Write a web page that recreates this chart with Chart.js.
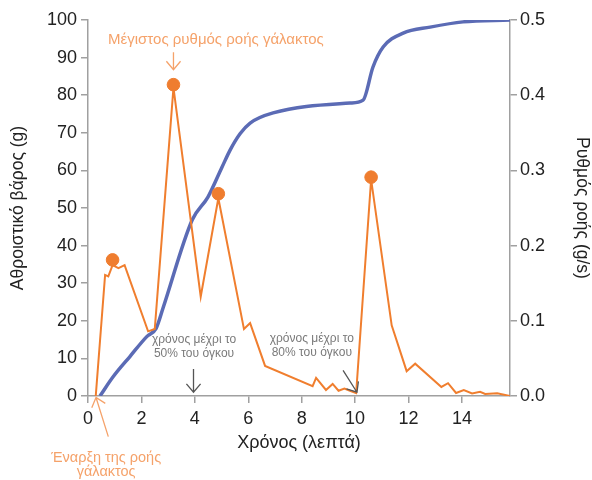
<!DOCTYPE html>
<html>
<head>
<meta charset="utf-8">
<script src="https://cdn.jsdelivr.net/npm/chart.js@4/dist/chart.umd.min.js"></script>
<style>
html,body{margin:0;padding:0;background:#fff;}
canvas{display:block;}
</style>
</head>
<body>
<canvas id="c" width="592" height="480"></canvas>
<script>
// ---- data ----
const xTicks = [0, 2, 4, 6, 8, 10, 12, 14];
const massTicks = [0, 10, 20, 30, 40, 50, 60, 70, 80, 90, 100];
const rateTicks = [0, 0.1, 0.2, 0.3, 0.4, 0.5];

// cumulative weight (g) vs time (min)
const mass_t = [0.45, 0.94, 1.57, 2.2, 2.55, 2.81, 3.9, 4.49, 5.02, 5.32, 5.7, 6.07, 6.93, 9.81, 10.3, 10.67, 11.05, 11.8, 12.81, 14.04, 15.8];
const mass_g = [0, 5.1, 10.5, 15.8, 18.0, 23.4, 46.8, 52.9, 60.9, 65.4, 69.8, 72.6, 75.3, 77.9, 78.7, 87.5, 92.8, 96.5, 98.1, 99.5, 100];

// flow rate (g/s) vs time (min)
const flow_t = [0.29, 0.64, 0.76, 0.92, 1.14, 1.37, 2.25, 2.5, 3.2, 4.22, 4.88, 5.84, 6.07, 6.63, 8.41, 8.54, 8.91, 9.16, 9.38, 9.6, 9.81, 10.04, 10.6, 11.37, 11.93, 12.25, 13.23, 13.48, 13.78, 14.07, 14.38, 14.68, 14.87, 15.32, 15.82];
const flow_r = [0, 0.161, 0.159, 0.174, 0.170, 0.174, 0.086, 0.089, 0.410, 0.132, 0.263, 0.089, 0.097, 0.040, 0.013, 0.024, 0.008, 0.016, 0.007, 0.010, 0.007, 0.004, 0.288, 0.094, 0.033, 0.043, 0.012, 0.017, 0.004, 0.008, 0.0035, 0.0057, 0.0027, 0.0035, 0];

// highlighted peaks
const peak_t = [0.92, 3.2, 4.88, 10.6];
const peak_r = [0.181, 0.414, 0.269, 0.291];

// annotations (text, anchored in data units of x / right axis)
const notes = [
  {lines: ["Μέγιστος ρυθμός ροής γάλακτος"], x: 4.79, r: 0.474, color: "#f5a26a", size: 15, lh: 1.1, arrow: [3.2, 0.457, 3.2, 0.434]},
  {lines: ["χρόνος μέχρι το", "50% του όγκου"], x: 3.97, r: 0.0655, color: "#7a7a7a", size: 12, lh: 1.1, arrow: [3.95, 0.036, 3.95, 0.005], arrowColor: "#555"},
  {lines: ["χρόνος μέχρι το", "80% του όγκου"], x: 8.38, r: 0.0665, color: "#7a7a7a", size: 12, lh: 1.15, arrow: [9.55, 0.034, 10.07, 0.005], arrowColor: "#555"},
  {lines: ["Έναρξη της ροής", "γάλακτος"], x: 0.68, r: -0.092, color: "#f5a26a", size: 14.5, lh: 0.97, arrow: [0.76, -0.054, 0.30, -0.002]}
];

const FONT = "'Liberation Sans', Arial, sans-serif";

const notePlugin = {
  id: 'notes',
  afterDraw(chart) {
    const ctx = chart.ctx, xs = chart.scales.x, ys = chart.scales.y1;
    ctx.save();
    notes.forEach(n => {
      const px = xs.getPixelForValue(n.x), py = ys.getPixelForValue(n.r);
      ctx.fillStyle = n.color;
      ctx.font = n.size + "px " + FONT;
      ctx.textAlign = 'center';
      ctx.textBaseline = 'middle';
      const lh = n.size * n.lh;
      n.lines.forEach((l, i) => ctx.fillText(l, px, py + (i - (n.lines.length - 1) / 2) * lh));
      if (n.arrow) {
        const x1 = xs.getPixelForValue(n.arrow[0]), y1 = ys.getPixelForValue(n.arrow[1]);
        const x2 = xs.getPixelForValue(n.arrow[2]), y2 = ys.getPixelForValue(n.arrow[3]);
        ctx.strokeStyle = n.arrowColor || n.color;
        ctx.lineWidth = 1.3;
        ctx.beginPath();
        ctx.moveTo(x1, y1); ctx.lineTo(x2, y2);
        const a = Math.atan2(y2 - y1, x2 - x1), h = 11, s = 0.7;
        ctx.moveTo(x2 - h * Math.cos(a - s), y2 - h * Math.sin(a - s));
        ctx.lineTo(x2, y2);
        ctx.lineTo(x2 - h * Math.cos(a + s), y2 - h * Math.sin(a + s));
        ctx.stroke();
      }
    });
    ctx.restore();
  }
};

const axisColor = '#a0a0a0';
new Chart(document.getElementById('c'), {
  type: 'scatter',
  data: {
    datasets: [
      {
        label: 'mass', yAxisID: 'y', showLine: true,
        data: mass_t.map((t, i) => ({x: t, y: mass_g[i]})),
        borderColor: '#5b6bb5', borderWidth: 3.5, pointRadius: 0,
        cubicInterpolationMode: 'monotone', order: 2
      },
      {
        label: 'rate', yAxisID: 'y1', showLine: true,
        data: flow_t.map((t, i) => ({x: t, y: flow_r[i]})),
        borderColor: '#f07e2e', borderWidth: 2, pointRadius: 0, tension: 0, order: 1
      },
      {
        label: 'peaks', yAxisID: 'y1', showLine: false,
        data: peak_t.map((t, i) => ({x: t, y: peak_r[i]})),
        backgroundColor: '#ef7d2f', borderColor: '#ef7d2f', pointRadius: 6.3, order: 0
      }
    ]
  },
  options: {
    responsive: false, animation: false,
    layout: {padding: {top: 20, left: 0, right: 0, bottom: 24}},
    plugins: {legend: {display: false}, tooltip: {enabled: false}},
    scales: {
      x: {
        type: 'linear', min: 0, max: 15.8,
        afterBuildTicks: s => { s.ticks = xTicks.map(v => ({value: v})); },
        afterFit: s => { s.height = 60; },
        grid: {drawOnChartArea: false, drawTicks: true, tickLength: 7, color: axisColor, lineWidth: 1.5},
        border: {color: axisColor, width: 1.5},
        ticks: {color: '#222', font: {family: FONT, size: 18}, padding: 5, maxRotation: 0},
        title: {display: true, text: 'Χρόνος (λεπτά)', color: '#222', font: {family: FONT, size: 18}, padding: {top: 0, bottom: 2}}
      },
      y: {
        position: 'left', min: 0, max: 100,
        afterBuildTicks: s => { s.ticks = massTicks.map(v => ({value: v})); },
        afterFit: s => { s.width = 88; },
        grid: {drawOnChartArea: false, drawTicks: true, tickLength: 7, color: axisColor, lineWidth: 1.5},
        border: {color: axisColor, width: 1.5},
        ticks: {color: '#222', font: {family: FONT, size: 18}, padding: 4},
        title: {display: true, text: 'Αθροιστικό βάρος (g)', color: '#222', font: {family: FONT, size: 17.5}, padding: {top: 7.5, bottom: 0}}
      },
      y1: {
        position: 'right', min: 0, max: 0.5,
        afterBuildTicks: s => { s.ticks = rateTicks.map(v => ({value: v})); },
        afterFit: s => { s.width = 82; },
        grid: {drawOnChartArea: false, drawTicks: true, tickLength: 7, color: axisColor, lineWidth: 1.5},
        border: {color: axisColor, width: 1.5},
        ticks: {color: '#222', font: {family: FONT, size: 18}, padding: 3, callback: v => v.toFixed(1)},
        title: {display: true, text: 'Ρυθμός ροής (g/s)', color: '#222', font: {family: FONT, size: 17.5}, padding: {top: 0, bottom: 0}}
      }
    }
  },
  plugins: [notePlugin]
});
</script>
</body>
</html>
